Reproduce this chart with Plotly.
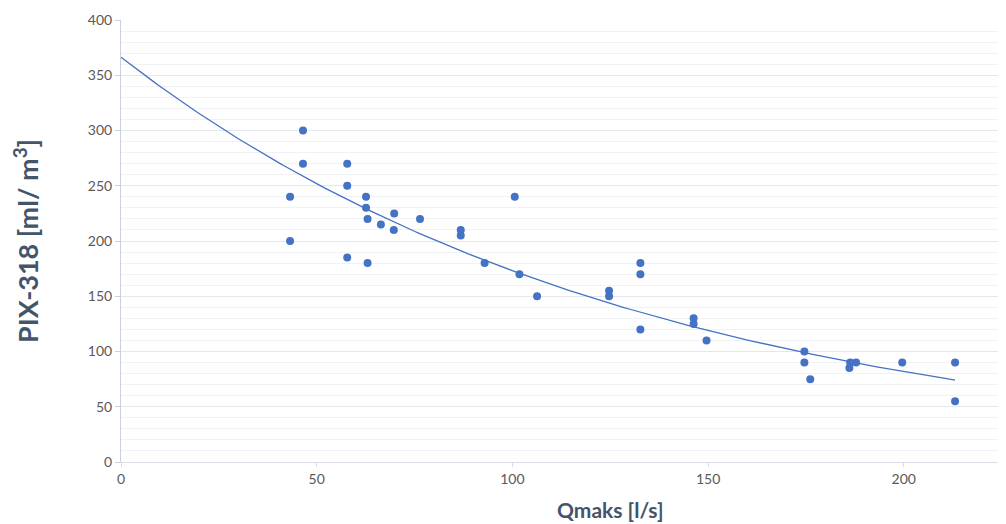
import numpy as np
import plotly.graph_objects as go

# Data
q_max = [43.2, 43.2, 46.5, 46.5, 57.8, 57.8, 57.8, 62.6, 62.6, 63.0, 63.0, 66.4,
         69.8, 69.7, 76.4, 86.8, 86.8, 92.9, 100.6, 101.8, 106.3, 124.7, 124.7,
         132.7, 132.7, 132.7, 146.3, 146.3, 149.6, 174.6, 174.6, 176.1, 186.3,
         186.1, 187.8, 199.6, 213.1, 213.1]
pix_318 = [240, 200, 300, 270, 270, 250, 185, 240, 230, 220, 180, 215,
           225, 210, 220, 210, 205, 180, 240, 170, 150, 155, 150,
           180, 170, 120, 130, 125, 110, 100, 90, 75, 90,
           85, 90, 90, 90, 55]

x_ticks = [0, 50, 100, 150, 200]
y_ticks = [0, 50, 100, 150, 200, 250, 300, 350, 400]

x_arr = np.array(q_max)
y_arr = np.array(pix_318)
# Exponential trendline (least squares on log(y)), like the spreadsheet trendline
b, ln_a = np.polyfit(x_arr, np.log(y_arr), 1)
trend_x = np.linspace(0, x_arr.max(), 200)
trend_y = np.exp(ln_a) * np.exp(b * trend_x)

blue = "#4472C4"
text_col = "#595959"
title_col = "#44546A"

fig = go.Figure()
fig.add_trace(go.Scatter(x=trend_x, y=trend_y, mode="lines",
                         line=dict(color=blue, width=1.3), hoverinfo="skip",
                         showlegend=False))
fig.add_trace(go.Scatter(x=q_max, y=pix_318, mode="markers",
                         marker=dict(color=blue, size=8), showlegend=False))

# page has an 8px body margin; compensate so the plot lands where the reference has it
OFF = 8
W, H = 1006 - OFF, 524 - OFF
L, R, T, B = 121 - OFF, 0, 20 - OFF, (524 - OFF) - (462 - OFF)
fig.update_layout(
    width=W, height=H,
    margin=dict(l=L, r=R, t=T, b=B),
    paper_bgcolor="white", plot_bgcolor="white",
    font=dict(family="Lato, Open Sans, sans-serif", size=14, color=text_col),
    xaxis=dict(range=[0, (1006 - 121) / 3.914], tickvals=x_ticks, showgrid=False,
               zeroline=False, showline=True, linecolor="#D9DEE6", linewidth=1,
               ticks="outside", ticklen=4, tickcolor="#D9DEE6",
               tickfont=dict(size=14, color=text_col)),
    yaxis=dict(range=[0, 400], tickvals=y_ticks, showgrid=True,
               gridcolor="#E3E7EE", gridwidth=1, zeroline=False,
               showline=True, linecolor="#C9D1DD", linewidth=1,
               ticks="outside", ticklen=5, tickcolor="#C9D1DD",
               tickfont=dict(size=14, color=text_col),
               minor=dict(dtick=10, showgrid=True, gridcolor="#F0F2F5",
                          gridwidth=1)),
)

pw = W - L - R
ph = H - T - B
fig.add_annotation(text="<b>Qmaks [l/s]</b>", xref="paper", yref="paper",
                   x=(610 - 121) / pw, y=-(509 - 462) / ph,
                   xanchor="center", yanchor="middle", showarrow=False,
                   font=dict(size=21, color=title_col,
                             family="Lato, Open Sans, sans-serif"))
fig.add_annotation(text="<b>PIX-318 [ml/ m<sup>3</sup>]</b>", xref="paper",
                   yref="paper", x=(26 - 121) / pw, y=0.5, textangle=-90,
                   xanchor="center", yanchor="middle", showarrow=False,
                   font=dict(size=27, color=title_col,
                             family="Lato, Open Sans, sans-serif"))

fig.write_html("out.html")
